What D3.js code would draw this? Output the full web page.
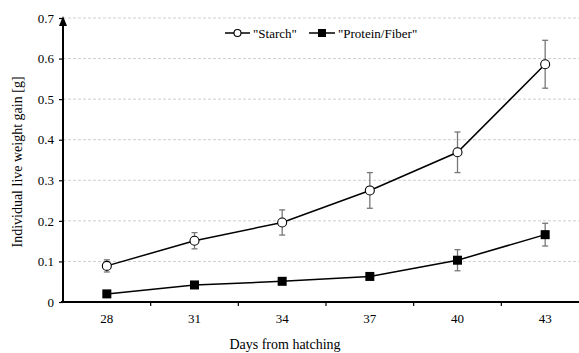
<!DOCTYPE html>
<html><head><meta charset="utf-8">
<script src="https://cdn.jsdelivr.net/npm/d3@7"></script>
<style>body{margin:0;background:#fff}svg{display:block}text{font-family:"Liberation Serif","Times New Roman",serif;fill:#000}</style>
</head><body><svg id="c" width="579" height="353"></svg>
<script>
const days = ["28","31","34","37","40","43"];
const starch = [0.089, 0.151, 0.196, 0.275, 0.369, 0.586];
const starchErr = [0.015, 0.02, 0.031, 0.044, 0.05, 0.059];
const protein = [0.02, 0.042, 0.051, 0.063, 0.103, 0.166];
const proteinErr = [0.003, 0.008, 0.005, 0.005, 0.026, 0.028];
const yTicks = [0, 0.1, 0.2, 0.3, 0.4, 0.5, 0.6, 0.7];
const seriesNames = ['"Starch"', '"Protein/Fiber"'];

const svg = d3.select("#c");
const x0 = 63, x1 = 589, yTop = 18, yBot = 302;
const x = d3.scaleBand().domain(days).range([x0, x1]);
const y = d3.scaleLinear().domain([0, 0.7]).range([yBot, yTop]);
const cx = d => x(d) + x.bandwidth()/2;

// grid
svg.append("g").selectAll("line").data(yTicks.filter(t=>t>0)).join("line")
  .attr("x1", x0).attr("x2", 579).attr("y1", d=>y(d)).attr("y2", d=>y(d))
  .attr("stroke", "#cfcfcf").attr("stroke-dasharray", "3,2").attr("stroke-width", 1);

// y axis
const ya = svg.append("g").attr("transform", `translate(${x0},0)`)
  .call(d3.axisLeft(y).tickValues(yTicks).tickFormat(d => d === 0 ? "0" : d3.format(".1f")(d)).tickSize(4).tickSizeOuter(0));
ya.select(".domain").remove();
ya.selectAll("text").attr("font-size", 13).attr("x", -9);
ya.selectAll("line").attr("stroke-width", 1.2);
svg.append("line").attr("x1", x0).attr("x2", x0).attr("y1", yBot+1).attr("y2", yTop+4).attr("stroke", "#000").attr("stroke-width", 2);
svg.append("path").attr("d", `M${x0-4},${yTop+8}L${x0},${yTop-2}L${x0+4},${yTop+8}Z`).attr("fill", "#000");

// x axis
const xa = svg.append("g").attr("transform", `translate(0,${yBot})`)
  .call(d3.axisBottom(x).tickSize(0));
xa.select(".domain").remove();
xa.selectAll("text").attr("font-size", 13).attr("dy", "1.2em").attr("y", 5);
svg.append("line").attr("x1", x0-2).attr("x2", 579).attr("y1", yBot).attr("y2", yBot).attr("stroke", "#000").attr("stroke-width", 2);
svg.append("g").selectAll("line").data(days.slice(1)).join("line")
  .attr("x1", d=>x(d)).attr("x2", d=>x(d)).attr("y1", yBot).attr("y2", yBot+4)
  .attr("stroke", "#000").attr("stroke-width", 1.2);

// labels
svg.append("text").attr("transform", `translate(22,${(yTop+yBot)/2+2}) rotate(-90)`)
  .attr("text-anchor", "middle").attr("font-size", 14).text("Individual live weight gain [g]");
svg.append("text").attr("x", 285).attr("y", 349).attr("text-anchor", "middle").attr("font-size", 14).text("Days from hatching");

function drawSeries(vals, errs, marker) {
  const g = svg.append("g");
  g.selectAll("g.err").data(days).join("g").attr("class","err").each(function(d,i){
    const e = errs[i]; if (y(vals[i]-e) - y(vals[i]+e) < 3) return;
    const s = d3.select(this);
    s.append("line").attr("x1", cx(d)).attr("x2", cx(d)).attr("y1", y(vals[i]-e)).attr("y2", y(vals[i]+e)).attr("stroke", "#777").attr("stroke-width", 1.3);
    [vals[i]-e, vals[i]+e].forEach(v => s.append("line").attr("x1", cx(d)-3).attr("x2", cx(d)+3).attr("y1", y(v)).attr("y2", y(v)).attr("stroke", "#777").attr("stroke-width", 1.3));
  });
  g.append("path").datum(vals).attr("fill", "none").attr("stroke", "#000").attr("stroke-width", 1.5)
    .attr("d", d3.line().x((v,i)=>cx(days[i])).y(v=>y(v)));
  if (marker === "circle") {
    g.selectAll("circle").data(vals).join("circle").attr("cx", (v,i)=>cx(days[i])).attr("cy", v=>y(v)).attr("r", 4.5)
      .attr("fill", "#fff").attr("stroke", "#000").attr("stroke-width", 1.1);
  } else {
    g.selectAll("rect").data(vals).join("rect").attr("x", (v,i)=>cx(days[i])-4.5).attr("y", v=>y(v)-4.5).attr("width", 9).attr("height", 9).attr("fill", "#000");
  }
}
drawSeries(starch, starchErr, "circle");
drawSeries(protein, proteinErr, "square");

// legend
const lg = svg.append("g");
const ly = 33;
lg.append("line").attr("x1", 225).attr("x2", 250).attr("y1", ly).attr("y2", ly).attr("stroke", "#000").attr("stroke-width", 1.5);
lg.append("circle").attr("cx", 237.5).attr("cy", ly).attr("r", 3.5).attr("fill", "#fff").attr("stroke", "#000").attr("stroke-width", 1.1);
lg.append("text").attr("x", 253).attr("y", ly+4.5).attr("font-size", 13).text(seriesNames[0]);
lg.append("line").attr("x1", 309).attr("x2", 335).attr("y1", ly).attr("y2", ly).attr("stroke", "#000").attr("stroke-width", 1.5);
lg.append("rect").attr("x", 318).attr("y", ly-4).attr("width", 8).attr("height", 8).attr("fill", "#000");
lg.append("text").attr("x", 338).attr("y", ly+4.5).attr("font-size", 13).text(seriesNames[1]);
</script></body></html>
